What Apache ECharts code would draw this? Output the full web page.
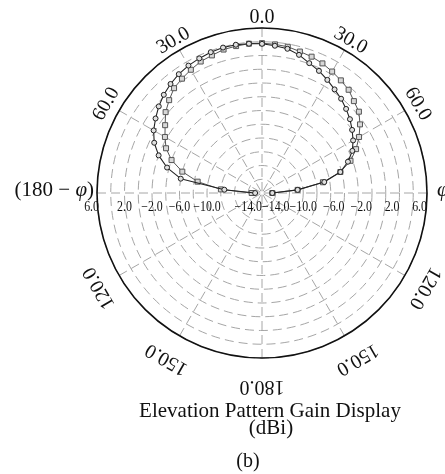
<!DOCTYPE html>
<html>
<head>
<meta charset="utf-8">
<script src="https://cdn.jsdelivr.net/npm/echarts@6/dist/echarts.min.js"></script>
<style>
  html, body { margin: 0; padding: 0; background: #fff; }
  #chart { width: 445px; height: 474px; }
</style>
</head>
<body>
<div id="chart"></div>
<script>
// Elevation angle (deg, 0 = zenith, negative = (180 - phi) side)
const angleDeg = [-90, -85, -80, -75, -70, -65, -60, -55, -50, -45, -40, -35, -30, -25, -20, -15, -10, -5,
                  0, 5, 10, 15, 20, 25, 30, 35, 40, 45, 50, 55, 60, 65, 70, 75, 80, 85, 90];

// Gain (dBi), curve drawn with round markers
const gainRound = [-17.0, -12.5, -6.0, -3.7, -2.0, -0.7, 0.2, 0.9, 1.6, 2.2, 2.7, 3.1, 3.4, 3.6, 3.8, 3.9, 3.9, 3.8,
                   3.7, 3.5, 3.3, 2.8, 2.1, 1.6, 1.0, 0.4, -0.1, -0.7, -1.3, -2.0, -2.7, -3.5, -4.7, -6.2, -8.8, -12.8, -16.5];

// Gain (dBi), curve drawn with square markers
const gainSquare = [-16.5, -12.0, -8.5, -6.0, -4.0, -2.6, -1.7, -0.8, 0.3, 1.1, 1.9, 2.3, 2.7, 3.1, 3.3, 3.6, 3.7, 3.8,
                    3.8, 3.7, 3.6, 3.3, 3.1, 2.8, 2.4, 2.0, 1.6, 0.9, 0.4, -0.6, -1.7, -2.9, -4.3, -6.2, -9.0, -12.8, -16.5];

// Radial (gain) tick labels
const radialTicks = [6, 2, -2, -6, -10, -14];

// Angular tick labels
const angleLabelPos  = [0, 30, 60, 120, 150, 180, -30, -60, -120, -150];
const angleLabelText = ['0.0', '30.0', '60.0', '120.0', '150.0', '180.0', '30.0', '60.0', '120.0', '150.0'];

const SERIF = '"Liberation Serif", "DejaVu Serif", serif';
const GRID = '#a6a6a6';

const chart = echarts.init(document.getElementById('chart'), null, { renderer: 'canvas' });

const option = {
  animation: false,
  backgroundColor: '#fff',
  polar: { center: [262, 193], radius: 165 },
  angleAxis: {
    type: 'value', min: -180, max: 180, interval: 30,
    startAngle: 270, clockwise: true,
    axisLine: { lineStyle: { color: '#111', width: 1.6 } },
    axisTick: { show: false },
    axisLabel: { show: false },
    splitLine: { show: true, lineStyle: { color: GRID, width: 1, type: [9, 5] } }
  },
  radiusAxis: {
    type: 'value', min: -18, max: 6, interval: 2,
    axisLine: { show: false },
    axisTick: { show: false },
    axisLabel: { show: false },
    splitLine: { show: true, lineStyle: { color: GRID, width: 1, type: [9, 5] } }
  },
  series: [
    {
      type: 'line', coordinateSystem: 'polar',
      data: angleDeg.map((a, i) => [gainSquare[i], a]),
      symbol: 'rect', symbolSize: 5,
      lineStyle: { color: '#555', width: 1 },
      itemStyle: { color: '#d8d8d8', borderColor: '#555', borderWidth: 1 },
      z: 3
    },
    {
      type: 'line', coordinateSystem: 'polar',
      data: angleDeg.map((a, i) => [gainRound[i], a]),
      symbol: 'circle', symbolSize: 5,
      lineStyle: { color: '#222', width: 1.1 },
      itemStyle: { color: '#e0e0e0', borderColor: '#222', borderWidth: 1 },
      z: 4
    }
  ]
};
chart.setOption(option);

// Labels placed from the polar scale
const ctr = chart.convertToPixel({ polarIndex: 0 }, [-18, 0]);
const zenith = chart.convertToPixel({ polarIndex: 0 }, [6, 0]);
const R = Math.abs(ctr[1] - zenith[1]);
const graphics = [];

angleLabelPos.forEach((a, i) => {
  const t = a * Math.PI / 180;
  const lr = R + 11 + 8 * (1 - Math.cos(t));
  graphics.push({
    type: 'text',
    x: ctr[0] + lr * Math.sin(t),
    y: ctr[1] - lr * Math.cos(t) + 1,
    rotation: -t,
    style: { text: angleLabelText[i], font: '20px ' + SERIF, fill: '#111', align: 'center', verticalAlign: 'middle' }
  });
});

graphics.push({
  type: 'text', x: ctr[0] - R - 3, y: ctr[1] - 3,
  style: {
    text: '{n|(180 − }{i|φ}{n|)}',
    align: 'right', verticalAlign: 'middle',
    rich: {
      n: { font: '21px ' + SERIF, fill: '#111' },
      i: { font: 'italic 21px ' + SERIF, fill: '#111' }
    }
  }
});
graphics.push({
  type: 'text', x: ctr[0] + R + 10, y: ctr[1] - 3,
  style: { text: 'φ', font: 'italic 21px ' + SERIF, fill: '#111', align: 'left', verticalAlign: 'middle' }
});

const fmt = v => (v < 0 ? '−' + Math.abs(v).toFixed(1) : v.toFixed(1));
radialTicks.forEach((v, k) => {
  const pl = chart.convertToPixel({ polarIndex: 0 }, [v, -90]);
  const pr = chart.convertToPixel({ polarIndex: 0 }, [v, 90]);
  const leftAlign = k === 0 ? 'right' : (k === radialTicks.length - 1 ? 'left' : 'center');
  graphics.push({
    type: 'text', x: pl[0] + (k === 0 ? 2 : 0), y: pl[1] + 14, scaleX: 0.85,
    style: { text: fmt(v), font: '14px ' + SERIF, fill: '#111', align: leftAlign, verticalAlign: 'middle' }
  });
  graphics.push({
    type: 'text', x: pr[0], y: pr[1] + 14, scaleX: 0.85,
    style: { text: fmt(v), font: '14px ' + SERIF, fill: '#111', align: 'right', verticalAlign: 'middle' }
  });
});

graphics.push({
  type: 'text', x: 270, y: 411,
  style: { text: 'Elevation Pattern Gain Display', font: '21px ' + SERIF, fill: '#111', align: 'center', verticalAlign: 'middle' }
});
graphics.push({
  type: 'text', x: 271, y: 428,
  style: { text: '(dBi)', font: '21px ' + SERIF, fill: '#111', align: 'center', verticalAlign: 'middle' }
});
graphics.push({
  type: 'text', x: 248, y: 462,
  style: { text: '(b)', font: '20px ' + SERIF, fill: '#111', align: 'center', verticalAlign: 'middle' }
});

chart.setOption({ graphic: graphics });
</script>
</body>
</html>
